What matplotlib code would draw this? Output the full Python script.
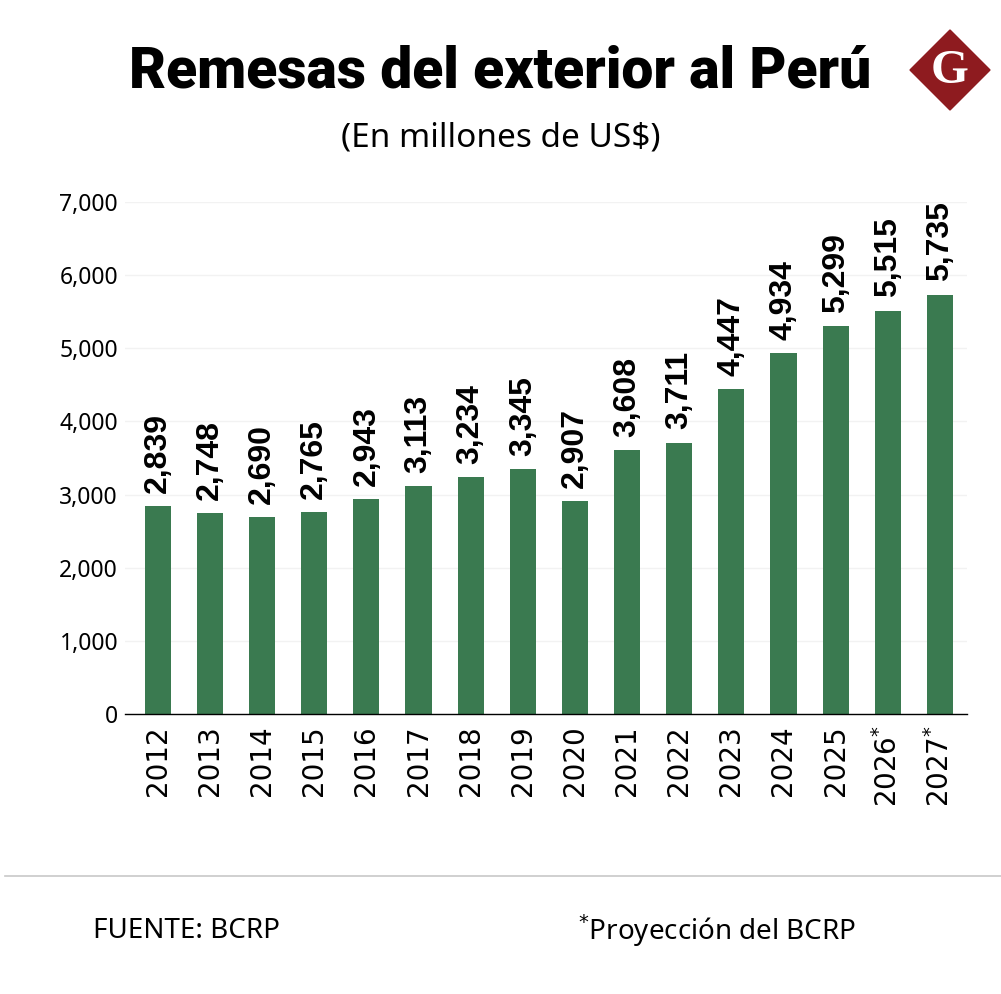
import matplotlib.pyplot as plt
from matplotlib.patches import Polygon
from matplotlib.ticker import FuncFormatter

# datos (millones de US$)
years = ['2012', '2013', '2014', '2015', '2016', '2017', '2018', '2019',
         '2020', '2021', '2022', '2023', '2024', '2025', '2026', '2027']
remesas = [2839, 2748, 2690, 2765, 2943, 3113, 3234, 3345,
           2907, 3608, 3711, 4447, 4934, 5299, 5515, 5735]
proyeccion = ['2026', '2027']

green = '#3a7a50'
W, H = 1001, 994

fig = plt.figure(figsize=(W / 100, H / 100), dpi=100)
fig.patch.set_facecolor('white')

# ejes en pixeles de la imagen
left, right, top, bottom = 125, 967, 202, 714
ax = fig.add_axes([left / W, 1 - bottom / H, (right - left) / W, (bottom - top) / H])

x = list(range(len(years)))
ax.bar(x, remesas, width=0.5, color=green, zorder=2)

for xi, v in zip(x, remesas):
    ax.text(xi, v + 180, '{:,}'.format(v), rotation=90, ha='center', va='bottom',
            fontsize=23, fontweight='bold', family='Liberation Sans', color='black',
            clip_on=False)

ax.set_xlim(-0.63, 15.52)
ax.set_ylim(0, 7000)
ax.set_yticks(range(0, 7001, 1000))
ax.yaxis.set_major_formatter(FuncFormatter(lambda v, p: '{:,}'.format(int(v))))
ax.grid(axis='y', color='#f2f2f2', linewidth=1, zorder=0)

ax.set_xticks(x)
ax.set_xticklabels([y + ('$^{*}$' if y in proyeccion else '') for y in years],
                   rotation=90, fontsize=20, family='DejaVu Sans')
for lab in ax.get_yticklabels():
    lab.set_fontsize(16.5)
    lab.set_family('Noto Sans')
ax.tick_params(length=0, pad=8)
ax.tick_params(axis='y', pad=5)

for s in ['top', 'right', 'left']:
    ax.spines[s].set_visible(False)
ax.spines['bottom'].set_color('black')
ax.spines['bottom'].set_linewidth(1)

# titulos
fig.text(500 / W, 1 - 72 / H, 'Remesas del exterior al Perú', ha='center', va='center',
         fontsize=41, fontweight='black', family='Roboto')
fig.text(501 / W, 1 - 138 / H, '(En millones de US$)', ha='center', va='center',
         fontsize=24, family='Noto Sans')

# logo
cx, cy, r = 950, 70, 40
diamond = Polygon([((cx - r) / W, 1 - cy / H), (cx / W, 1 - (cy - r) / H),
                   ((cx + r) / W, 1 - cy / H), (cx / W, 1 - (cy + r) / H)],
                  closed=True, transform=fig.transFigure, color='#8e1b1f')
fig.patches.append(diamond)
fig.text(cx / W, 1 - (cy + 1) / H, 'G', ha='center', va='center', color='white',
         fontsize=35, fontweight='bold', family='Liberation Serif')

# linea separadora y pie
fig.add_artist(plt.Line2D([5 / W, 1], [1 - 876 / H, 1 - 876 / H], color='#c8c8c8',
                          linewidth=1.2, transform=fig.transFigure))
fig.text(93 / W, 1 - 931 / H, 'FUENTE: BCRP', ha='left', va='center',
         fontsize=20, family='Noto Sans')
fig.text(578 / W, 1 - 931 / H, '$^{*}$Proyección del BCRP', ha='left', va='center',
         fontsize=20, family='Noto Sans')

plt.savefig('out.png', dpi=100)
